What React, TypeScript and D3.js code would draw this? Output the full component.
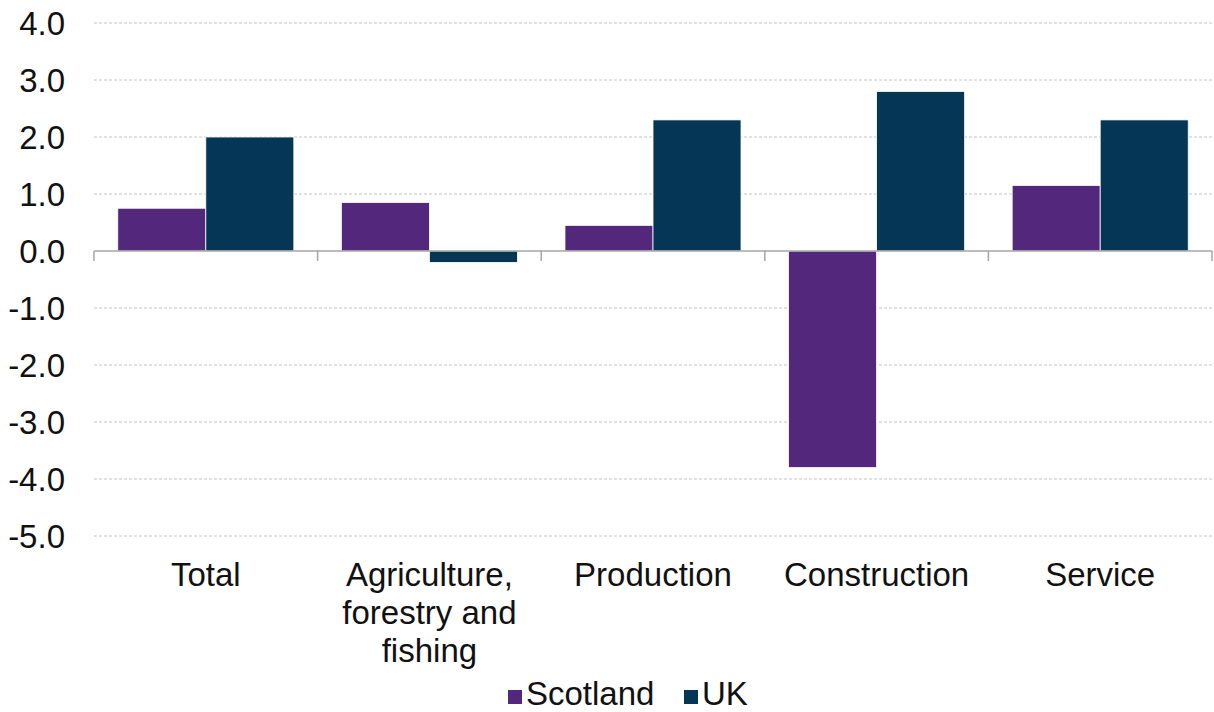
import React from "react";
import * as d3 from "d3";

const categories = ["Total", "Agriculture, forestry and fishing", "Production", "Construction", "Service"];
const categoryLines = [["Total"], ["Agriculture,", "forestry and", "fishing"], ["Production"], ["Construction"], ["Service"]];
const seriesNames = ["Scotland", "UK"];
const scotlandValues = [0.75, 0.85, 0.45, -3.8, 1.15];
const ukValues = [2.0, -0.2, 2.3, 2.8, 2.3];
const yTicks = [4, 3, 2, 1, 0, -1, -2, -3, -4, -5];
const colors = ["#53277B", "#063655"];

const W = 1214;
const H = 712;
const FONT = "'Liberation Sans', Arial, sans-serif";
const FS = 33;

export default function App() {
  const x0 = d3.scaleBand<string>().domain(categories).range([94, 1212]).paddingInner(0).paddingOuter(0);
  const x1 = d3.scaleBand<string>().domain(seriesNames).range([0, x0.bandwidth()]).paddingInner(0).paddingOuter(0.27);
  const y = d3.scaleLinear().domain([-5, 4]).range([536, 23]);
  const values = [scotlandValues, ukValues];
  const boundaries = [...categories.map((c) => x0(c)!), 1212];
  const fmt = (t: number) => d3.format(".1f")(t).replace("\u2212", "-");

  return (
    <svg width={W} height={H} style={{ position: "absolute", left: 0, top: 0, background: "#fff" }} fontFamily={FONT}>
      {yTicks.map((t) =>
        t !== 0 ? (
          <line key={"g" + t} x1={94} x2={1212} y1={y(t)} y2={y(t)} stroke="#c4c4c4" strokeWidth={1} strokeDasharray="3,2" />
        ) : null
      )}
      {yTicks.map((t) => (
        <text key={"t" + t} x={65} y={y(t)} dy="0.36em" textAnchor="end" fontSize={FS} fill="#111">
          {fmt(t)}
        </text>
      ))}
      {categories.map((c, i) =>
        seriesNames.map((s, j) => {
          const v = values[j][i];
          const top = y(Math.max(0, v));
          const h = Math.abs(y(v) - y(0));
          return (
            <rect key={c + s} x={x0(c)! + x1(s)!} y={top} width={x1.bandwidth()} height={h} fill={colors[j]} stroke="#ffffff" strokeWidth={0.8} />
          );
        })
      )}
      <line x1={94} x2={1212} y1={y(0)} y2={y(0)} stroke="#a6a6a6" strokeWidth={1.5} />
      {boundaries.map((b, i) => (
        <line key={"tk" + i} x1={b} x2={b} y1={y(0)} y2={y(0) + 10} stroke="#a6a6a6" strokeWidth={1.5} />
      ))}
      {categories.map((c, i) => (
        <text key={"c" + c} x={x0(c)! + x0.bandwidth() / 2} y={586} textAnchor="middle" fontSize={FS} fill="#111">
          {categoryLines[i].map((ln, k) => (
            <tspan key={k} x={x0(c)! + x0.bandwidth() / 2} dy={k === 0 ? 0 : 38}>
              {ln}
            </tspan>
          ))}
        </text>
      ))}
      {seriesNames.map((s, j) => {
        const lx = j === 0 ? 508 : 684;
        return (
          <g key={"l" + s}>
            <rect x={lx} y={690} width={14} height={14} fill={colors[j]} />
            <text x={lx + 18} y={705} fontSize={FS} fill="#111">
              {s}
            </text>
          </g>
        );
      })}
    </svg>
  );
}
